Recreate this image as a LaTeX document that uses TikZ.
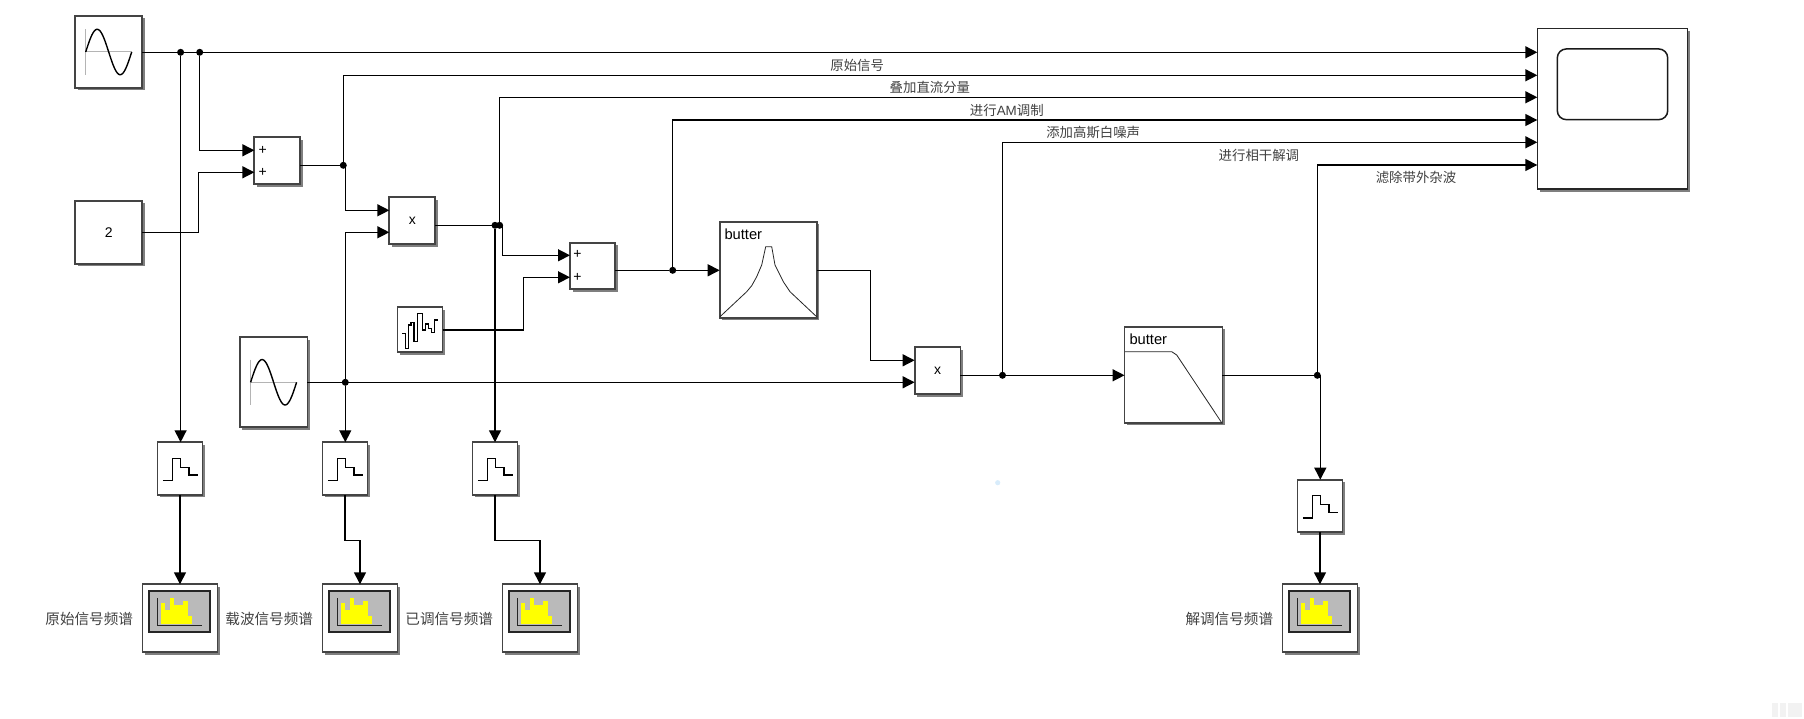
\documentclass[tikz,border=0pt]{standalone}
\usepackage{fontspec}
\setmainfont{Liberation Sans}
\newfontfamily\cjk{Noto Sans CJK SC}
\usetikzlibrary{arrows.meta,shadows}
\definecolor{edgeline}{HTML}{444444}
\definecolor{wire}{HTML}{000000}
\definecolor{ink}{HTML}{404040}
\definecolor{axisgrey}{HTML}{B4B4B4}
\definecolor{screen}{HTML}{BABABA}
\definecolor{barfill}{HTML}{FFFF00}
\definecolor{speck}{HTML}{D8ECFB}
\definecolor{faint}{HTML}{F2F2F2}
\tikzset{
  block/.style={draw=edgeline, fill=white, line width=1.8pt, inner sep=0pt, outer sep=0pt,
    font=\fontsize{14}{16}\selectfont, text=black,
    drop shadow={shadow xshift=2.5pt, shadow yshift=-2.5pt, fill=black, opacity=0.5}},
  wired/.style={draw=wire, line width=1.4pt, -{Triangle[length=12pt,width=12pt]}},
  plain/.style={draw=wire, line width=1.4pt},
  dot/.style={circle, fill=wire, inner sep=0pt, outer sep=0pt, minimum size=7pt},
  glyph/.style={font=\fontsize{14}{16}\selectfont, text=black, inner sep=0pt},
  butterlabel/.style={font=\fontsize{14.7}{16}\selectfont, text=black, inner sep=0pt, anchor=west},
  sigtext/.style={font=\cjk\fontsize{13.4}{15}\selectfont, text=ink, inner sep=0pt},
  spectext/.style={font=\cjk\fontsize{14.6}{16}\selectfont, text=ink, inner sep=0pt, anchor=east},
  icon/.style={draw=black, line width=1.1pt},
  thinicon/.style={draw=black!85, line width=0.8pt},
}
\newcommand{\sineblock}[1]{%
  \begin{scope}[shift={(#1.center)}]
    \draw[axisgrey,line width=1pt] (-23,-22.7)--(-23,22.7) (-23,0)--(23,0);
    \draw[icon,line width=1.4pt] plot[domain=0:360,samples=61,smooth] ({-23+\x/360*46},{-22.7*sin(\x)});
  \end{scope}
}
\newcommand{\zohblock}[2]{%
  \node[block,minimum width=45pt,minimum height=52.7pt] (#1) at (#2) {};
  \draw[icon,shift={(#1.center)}] (-17.1,12)--(-7.9,12)--(-7.9,-10.3)--(0.3,-10.3)
    --(0.3,-1.3)--(9,-1.3)--(9,6.4)--(17.7,6.4);
}
\newcommand{\specblock}[2]{%
  \node[block,minimum width=75pt,minimum height=68pt] (#1) at (#2) {};
  \begin{scope}[shift={(#1.center)}]
    \draw[draw=black!85,fill=screen,line width=2pt] (-31.4,-27.6) rectangle (30.4,14);
    \foreach \xa/\xb/\ytop in {-19/-14.7/-15,-14.7/-10.4/-8.3,-10.4/-6/-20.3,-6/-1/-13,
      -1/3.2/-13,3.2/7.5/-17.3,7.5/12.1/-2.3}{
      \fill[barfill] (\xa,5.7) rectangle (\xb,\ytop);
    }
    \draw[black!85,line width=1pt] (-22.1,-20)--(-22.1,6.7)--(21.8,6.7);
  \end{scope}
}

\begin{document}
\begin{tikzpicture}[x=1pt,y=-1pt]
\useasboundingbox (0,0) rectangle (1804,719);
% sources
\node[block,minimum width=67.3pt,minimum height=72pt] (sineA) at (108.7,52) {};
\sineblock{sineA}
\node[block,minimum width=67.3pt,minimum height=63.3pt] (constA) at (108.7,232.3) {2};
\node[block,minimum width=67.6pt,minimum height=90pt] (sineB) at (273.6,382.3) {};
\sineblock{sineB}
\node[block,minimum width=45pt,minimum height=45pt] (noiseA) at (420,329.8) {};
\draw[icon,shift={(noiseA.center)},line width=1.2pt] (-17.7,3.5)--(-14.3,3.5)--(-14.3,18.5)--(-11.7,18.5)
  --(-11.7,-4.8)--(-9,-4.8)--(-9,-7.5)--(-6,-7.5)--(-6,11.5)--(-2.7,11.5)--(-2.7,-16.5)
  --(2.3,-16.5)--(2.3,0.2)--(5.3,0.2)--(5.3,-5.8)--(8.7,-5.8)--(8.7,-1.5)--(11.3,-1.5)
  --(11.3,2.9)--(14.3,2.9)--(14.3,-9.8)--(18.3,-9.8);

% sums and products
\node[block,minimum width=45.7pt,minimum height=47pt] (sumA) at (277.2,160.8) {};
\node[glyph] (sumAp) at (262.7,150) {+};
\node[glyph] (sumAq) at (262.7,172.7) {+};
\node[block,minimum width=46pt,minimum height=47pt] (prodA) at (412.3,220.8) {x};
\node[block,minimum width=45pt,minimum height=46.6pt] (sumB) at (592.5,266) {};
\node[glyph] (sumBp) at (577.4,254.3) {+};
\node[glyph] (sumBq) at (577.4,277.7) {+};
\node[block,minimum width=45.8pt,minimum height=47pt] (prodB) at (937.5,370.8) {x};

% filters
\node[block,minimum width=97.3pt,minimum height=96pt] (butterA) at (768.3,269.7) {};
\node[butterlabel] (butterAt) at (724.3,234.3) {butter};
\draw[thinicon,shift={(butterA.center)}] (-48.3,47)--(-21.6,22)--(-16.6,16)--(-11.6,7)--(-6.6,-4.7)--(-2.6,-23)
  --(3.4,-23)--(6.7,-4.7)--(15,12)--(21.7,22)--(48.3,47);
\node[block,minimum width=97.9pt,minimum height=96pt] (butterB) at (1173.5,374.7) {};
\node[butterlabel] (butterBt) at (1129.3,339.3) {butter};
\draw[thinicon,shift={(butterB.center)}] (-48.5,-23)--(-1.8,-23)--(3.2,-19.7)--(48.2,48);

% scope
\node[block,draw=black!85,line width=1.3pt,minimum width=150.4pt,minimum height=160.7pt] (scopeA) at (1612.5,108.7) {};
\node[draw=black!90,line width=1.5pt,rounded corners=9pt,inner sep=0pt,minimum width=110.4pt,minimum height=70.7pt] (scopeS) at (1612.5,84.3) {};
\foreach \i/\y in {1/52.3,2/75.3,3/97.3,4/120,5/142.3,6/165}{
  \coordinate (scope-\i) at (scopeA.west |- 0,\y);
}

% zero order hold and spectrum blocks
\zohblock{zohA}{180,468.6}
\zohblock{zohB}{345,468.6}
\zohblock{zohC}{495,468.6}
\zohblock{zohD}{1320,506}
\specblock{specA}{180,618.3}
\specblock{specB}{360,618.3}
\specblock{specC}{540,618.3}
\specblock{specD}{1320,618.3}

% junctions
\node[dot] (juncA) at (180.6,52.3) {};
\node[dot] (juncB) at (199.7,52.3) {};
\node[dot] (juncC) at (343.3,165.3) {};
\node[dot] (juncD) at (495,225.3) {};
\node[dot] (juncE) at (499.6,225.3) {};
\node[dot] (juncF) at (345.3,382.3) {};
\node[dot] (juncG) at (672.7,270.3) {};
\node[dot] (juncH) at (1002.5,375.3) {};
\node[dot] (juncI) at (1317.3,375.3) {};

% ports
\coordinate (sumA-1) at (sumA.west |- 0,150.3);
\coordinate (sumA-2) at (sumA.west |- 0,172.3);
\coordinate (prodA-1) at (prodA.west |- 0,210.3);
\coordinate (prodA-2) at (prodA.west |- 0,232.3);
\coordinate (sumB-1) at (sumB.west |- 0,255.3);
\coordinate (sumB-2) at (sumB.west |- 0,277.3);
\coordinate (prodB-1) at (prodB.west |- 0,360.3);
\coordinate (prodB-2) at (prodB.west |- 0,382.3);

% wires
\draw[wired] (sineA.east |- juncA) -- (scope-1);
\draw[wired] (juncB) |- (sumA-1);
\draw[wired] (constA.east) -| (198.3,172.3) -- (sumA-2);
\draw[wired] (juncA) -- (juncA |- zohA.north);
\draw[plain] (sumA.east |- juncC) -- (juncC);
\draw[wired] (juncC) |- (scope-2);
\draw[wired] ([xshift=2pt]juncC.center) |- (prodA-1);
\draw[wired] (juncF) |- (prodA-2);
\draw[wired] (juncF) -- (juncF |- zohB.north);
\draw[wired] (sineB.east |- prodB-2) -- (prodB-2);
\draw[plain] (prodA.east |- juncD) -- (juncE);
\draw[wired] (juncE) |- (scope-3);
\draw[wired] ([xshift=2.7pt]juncE.center) |- (sumB-1);
\draw[wired] (juncD) -- (juncD |- zohC.north);
\draw[wired] (noiseA.east) -| (523.3,277.3) -- (sumB-2);
\draw[plain] (sumB.east |- juncG) -- (juncG);
\draw[wired] (juncG) |- (scope-4);
\draw[wired] (juncG) -- (butterA.west |- juncG);
\draw[wired] (butterA.east |- juncG) -| (870.4,360.3) -- (prodB-1);
\draw[plain] (prodB.east |- juncH) -- (juncH);
\draw[wired] (juncH) |- (scope-5);
\draw[wired] (juncH) -- (butterB.west |- juncH);
\draw[plain] (butterB.east |- juncI) -- (juncI);
\draw[wired] (juncI) |- (scope-6);
\draw[wired] ([xshift=3pt]juncI.center) -- ([xshift=3pt]juncI.center |- zohD.north);
\draw[wired] (zohA.south) -- (specA.north);
\draw[wired] (zohB.south) -- ++(0,45.3) -| (specB.north);
\draw[wired] (zohC.south) -- ++(0,45.3) -| (specC.north);
\draw[wired] (zohD.south) -- (specD.north);

% labels
\node[sigtext] (sigA) at (857.2,65) {原始信号};
\node[sigtext] (sigB) at (929.9,87.3) {叠加直流分量};
\node[sigtext] (sigC) at (1006.8,110) {进行{\fontspec{Liberation Sans}AM}调制};
\node[sigtext] (sigD) at (1093.2,132.8) {添加高斯白噪声};
\node[sigtext] (sigE) at (1258.9,155) {进行相干解调};
\node[sigtext] (sigF) at (1416,177.3) {滤除带外杂波};
\node[spectext] (nameA) at (133.2,619) {原始信号频谱};
\node[spectext] (nameB) at (313.2,619) {载波信号频谱};
\node[spectext] (nameC) at (493.2,619) {已调信号频谱};
\node[spectext] (nameD) at (1273.3,619) {解调信号频谱};

% stray marks
\fill[speck] (997.7,482.7) circle (2.6);
\fill[faint] (1772.3,702.7) rectangle (1778.3,717.3);
\fill[faint] (1780,702.7) rectangle (1786,717.3);
\fill[faint] (1787.7,702.7) rectangle (1802.3,717.3);
\end{tikzpicture}
\end{document}
